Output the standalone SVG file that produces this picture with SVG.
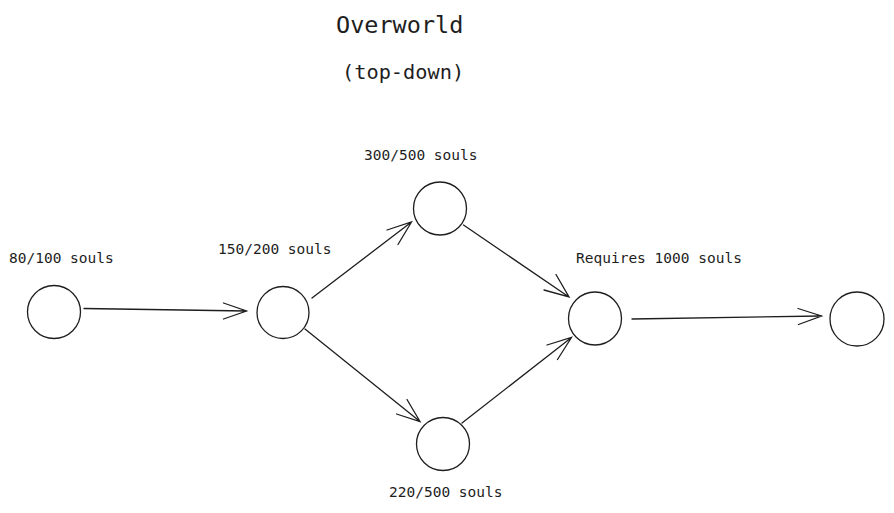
<svg xmlns="http://www.w3.org/2000/svg" width="894" height="513" viewBox="0 0 894 513">
<defs>
<style>
.n{fill:none;stroke:#1e1e1e;stroke-width:1.3}
.c{fill:none;stroke:#1e1e1e;stroke-width:1.3;stroke-linecap:round}
.t{font-family:"DejaVu Sans Mono","Liberation Mono",monospace;fill:#1e1e1e}
.l{font-size:14.5px}
</style>
</defs>
<rect width="894" height="513" fill="#ffffff"/>
<text class="t" x="336" y="33" font-size="23.5">Overworld</text>
<text class="t" x="342" y="79" font-size="20.3">(top-down)</text>
<g id="node-a"><circle class="n" cx="54" cy="312" r="26.5"/><text class="t l" x="9" y="263">80/100 souls</text></g>
<g id="node-b"><circle class="n" cx="283" cy="312.5" r="26"/><text class="t l" x="218" y="254">150/200 souls</text></g>
<g id="node-c"><circle class="n" cx="440" cy="208.5" r="26.5"/><text class="t l" x="364" y="160">300/500 souls</text></g>
<g id="node-d"><circle class="n" cx="443" cy="444" r="26.5"/><text class="t l" x="389" y="497">220/500 souls</text></g>
<g id="node-e"><circle class="n" cx="595" cy="318.5" r="26.5"/><text class="t l" x="576" y="263">Requires 1000 souls</text></g>
<g id="node-f"><circle class="n" cx="857" cy="319" r="27"/></g>
<g id="connectors">
<path class="c" d="M84 308.5 L246.5 311 M223.5 303 L246.5 311 L223.5 319"/>
<path class="c" d="M312 298 L411.5 222 M387 230 L411.5 222 L398 244.5"/>
<path class="c" d="M463.5 225 L569 297 M556 274.5 L569 297 L544 290"/>
<path class="c" d="M305 329 L420 421.5 M407 399.5 L420 421.5 L396.5 414"/>
<path class="c" d="M462 423 L571.5 337.5 M547 345 L571.5 337.5 L557.5 359.5"/>
<path class="c" d="M632 319 L821.5 316 M798 308.5 L821.5 316 L798.5 324.5"/>
</g>
</svg>
